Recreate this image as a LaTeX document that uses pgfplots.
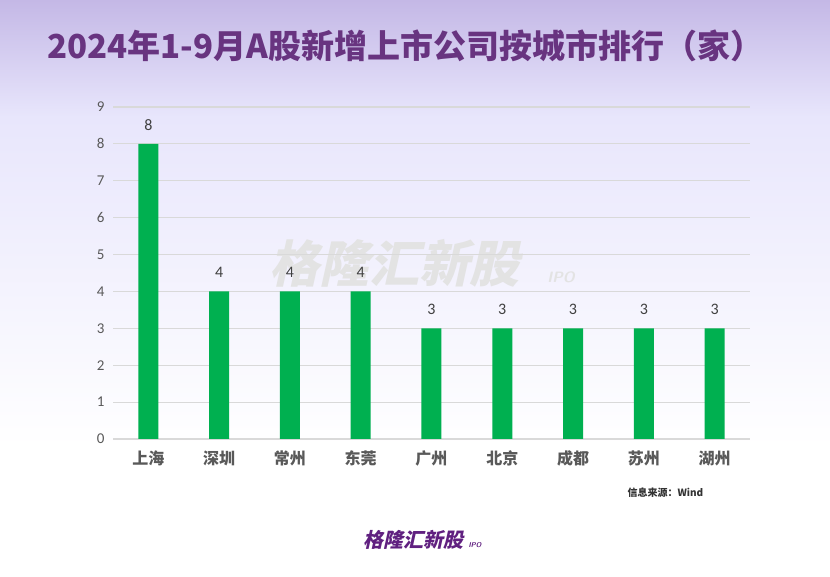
\documentclass[border=0pt]{standalone}
\usepackage{fontspec}
\usepackage{pgfplots}
\pgfplotsset{compat=1.18}
\setmainfont{Carlito}
\newfontfamily\cjk{Noto Sans CJK SC}
\newfontfamily\cjkslant[FakeSlant=0.22]{Noto Sans CJK SC}
\definecolor{titlepurple}{RGB}{104,52,128}
\definecolor{bargreen}{RGB}{0,176,80}
\definecolor{topbg}{RGB}{196,184,230}
\definecolor{midbg}{RGB}{232,230,252}
\definecolor{ticktext}{RGB}{89,89,89}
\definecolor{gridc}{RGB}{217,217,217}
\definecolor{logopurple}{RGB}{96,32,128}
\pgfplotstableread{
x val
0 8
1 4
2 4
3 4
4 3
5 3
6 3
7 3
8 3
}\citydata
\begin{document}
\begin{tikzpicture}
% background
\path[use as bounding box] (0pt,0pt) rectangle (830pt,577pt);
\fill[white] (0pt,0pt) rectangle (830pt,577pt);
\shade[top color=midbg, bottom color=white] (0pt,130pt) rectangle (830pt,460pt);
\shade[top color=topbg, bottom color=midbg] (0pt,460pt) rectangle (830pt,577pt);
% title
\node[anchor=center, text=titlepurple, font=\cjk\bfseries\fontsize{33}{36}\selectfont] at (405pt,531pt) {2024年1-9月A股新增上市公司按城市排行（家）};
% watermark
\node[anchor=center, text=black!11, font=\cjkslant\bfseries\fontsize{50}{54}\selectfont] at (394pt,314pt) {格隆汇新股};
\node[anchor=center, text=black!11, font=\sffamily\bfseries\itshape\fontsize{15}{17}\selectfont] at (561pt,300pt) {IPO};
\begin{axis}[
  at={(113pt,138pt)}, anchor=south west,
  scale only axis, width=637pt, height=332pt,
  xmin=-0.5, xmax=8.5, ymin=0, ymax=9,
  axis line style={draw=none},
  ymajorgrids, grid style={gridc, line width=1.2pt},
  ytick={0,...,9},
  xtick=data,
  xticklabels={上海,深圳,常州,东莞,广州,北京,成都,苏州,湖州},
  xticklabel style={font=\cjk\bfseries\fontsize{16}{18}\selectfont, text=ticktext, yshift=-8pt},
  yticklabel style={font=\fontsize{15}{17}\selectfont, text=ticktext, xshift=-5pt},
  /pgf/number format/assume math mode=true,
  major tick length=0pt,
  clip=false,
  nodes near coords,
  nodes near coords style={font=\fontsize{16}{18}\selectfont, text=black!75, yshift=10pt},
]
\addplot[ybar, bar width=20pt, fill=bargreen, draw=none] table[x=x, y=val] {\citydata};
\end{axis}
% source
\node[anchor=west, text=black!80, font=\cjk\bfseries\fontsize{10}{12}\selectfont] at (624pt,84pt) {信息来源：Wind};
% logo
\node[anchor=center, text=logopurple, font=\cjkslant\bfseries\fontsize{20}{22}\selectfont] at (413pt,37pt) {格隆汇新股};
\node[anchor=center, text=logopurple, font=\sffamily\bfseries\itshape\fontsize{7}{8}\selectfont] at (475pt,32pt) {IPO};
\end{tikzpicture}
\end{document}
